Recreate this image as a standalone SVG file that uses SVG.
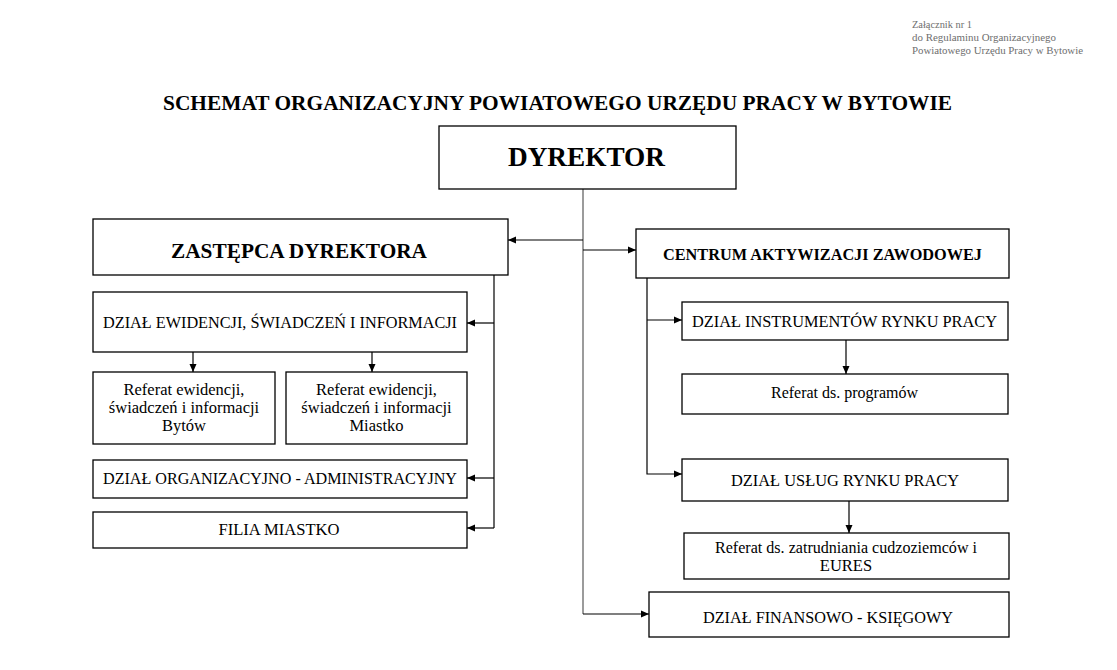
<svg xmlns="http://www.w3.org/2000/svg" width="1117" height="670" viewBox="0 0 1117 670">
<style>
.box{fill:#fff;stroke:#000;stroke-width:1.3}
.t{font-family:"Liberation Serif","Times New Roman",serif;fill:#000;text-anchor:middle}
.r{font-size:16.5px}
.b{font-weight:bold}
.note{font-family:"Liberation Serif","Times New Roman",serif;font-size:10.5px;fill:#6e6e6e}
.ln{fill:none;stroke:#000;stroke-width:1.2}
.main{fill:none;stroke:#7a7a7a;stroke-width:1.5}
</style>
<defs>
<marker id="ah" markerUnits="userSpaceOnUse" markerWidth="8" markerHeight="8" refX="8" refY="4" orient="auto">
<path d="M0,0.5 L8,4 L0,7.5 z" fill="#000"/>
</marker>
</defs>
<rect width="1117" height="670" fill="#fff"/>

<g id="note">
<text class="note" x="912" y="28" textLength="60" lengthAdjust="spacingAndGlyphs">Załącznik nr 1</text>
<text class="note" x="912" y="41" textLength="144" lengthAdjust="spacingAndGlyphs">do Regulaminu Organizacyjnego</text>
<text class="note" x="912" y="54" textLength="171" lengthAdjust="spacingAndGlyphs">Powiatowego Urzędu Pracy w Bytowie</text>
</g>

<text id="title" class="t b" x="557.5" y="110" font-size="20" textLength="789" lengthAdjust="spacingAndGlyphs">SCHEMAT  ORGANIZACYJNY  POWIATOWEGO  URZĘDU  PRACY  W  BYTOWIE</text>

<g id="connectors">
<path class="main" d="M583,189 V614"/>
<path class="ln" d="M583,614 H649" marker-end="url(#ah)"/>
<path class="ln" d="M583,240 H508" marker-end="url(#ah)"/>
<path class="ln" d="M583,250 H636" marker-end="url(#ah)"/>
<path class="ln" d="M494,275 V528"/>
<path class="ln" d="M494,323 H467" marker-end="url(#ah)"/>
<path class="ln" d="M494,478 H467" marker-end="url(#ah)"/>
<path class="ln" d="M494,528 H467" marker-end="url(#ah)"/>
<path class="ln" d="M193,352 V372" marker-end="url(#ah)"/>
<path class="ln" d="M372,352 V372" marker-end="url(#ah)"/>
<path class="ln" d="M647,278 V474 H682" marker-end="url(#ah)"/>
<path class="ln" d="M647,320 H682" marker-end="url(#ah)"/>
<path class="ln" d="M846,340 V374" marker-end="url(#ah)"/>
<path class="ln" d="M849,501 V533" marker-end="url(#ah)"/>
</g>

<g id="dyrektor">
<rect class="box" x="439" y="126" width="297" height="63"/>
<text class="t b" x="586.5" y="166" font-size="27" textLength="157" lengthAdjust="spacingAndGlyphs">DYREKTOR</text>
</g>

<g id="zastepca">
<rect class="box" x="93" y="219" width="415" height="56"/>
<text class="t b" x="299" y="258" font-size="21" textLength="256" lengthAdjust="spacingAndGlyphs">ZASTĘPCA DYREKTORA</text>
</g>

<g id="centrum">
<rect class="box" x="636" y="229" width="373" height="49"/>
<text class="t b" x="822.5" y="260" font-size="16" textLength="319" lengthAdjust="spacingAndGlyphs">CENTRUM AKTYWIZACJI ZAWODOWEJ</text>
</g>

<g id="dzial-ewidencji">
<rect class="box" x="93" y="292" width="374" height="60"/>
<text class="t r" x="280" y="328" textLength="354" lengthAdjust="spacingAndGlyphs">DZIAŁ EWIDENCJI, ŚWIADCZEŃ I INFORMACJI</text>
</g>

<g id="referat-bytow">
<rect class="box" x="93" y="372" width="182" height="72"/>
<text class="t r" x="184" y="395">Referat ewidencji,</text>
<text class="t r" x="184" y="413">świadczeń i informacji</text>
<text class="t r" x="184" y="431">Bytów</text>
</g>

<g id="referat-miastko">
<rect class="box" x="286" y="372" width="181" height="72"/>
<text class="t r" x="376.5" y="395">Referat ewidencji,</text>
<text class="t r" x="376.5" y="413">świadczeń i informacji</text>
<text class="t r" x="376.5" y="431">Miastko</text>
</g>

<g id="dzial-organizacyjny">
<rect class="box" x="93" y="460" width="374" height="38"/>
<text class="t r" x="280" y="484" textLength="354" lengthAdjust="spacingAndGlyphs">DZIAŁ ORGANIZACYJNO - ADMINISTRACYJNY</text>
</g>

<g id="filia">
<rect class="box" x="93" y="512" width="374" height="36"/>
<text class="t r" x="279" y="535" textLength="121" lengthAdjust="spacingAndGlyphs">FILIA MIASTKO</text>
</g>

<g id="dzial-instrumentow">
<rect class="box" x="682" y="302" width="326" height="38"/>
<text class="t r" x="844.5" y="327" textLength="305" lengthAdjust="spacingAndGlyphs">DZIAŁ INSTRUMENTÓW RYNKU PRACY</text>
</g>

<g id="referat-programow">
<rect class="box" x="682" y="374" width="326" height="40"/>
<text class="t r" x="844.5" y="398" textLength="147" lengthAdjust="spacingAndGlyphs">Referat ds. programów</text>
</g>

<g id="dzial-uslug">
<rect class="box" x="682" y="459" width="326" height="42"/>
<text class="t r" x="845" y="486" textLength="228" lengthAdjust="spacingAndGlyphs">DZIAŁ USŁUG RYNKU PRACY</text>
</g>

<g id="referat-cudzoziemcow">
<rect class="box" x="684" y="533" width="325" height="46"/>
<text class="t r" x="846" y="553" textLength="262" lengthAdjust="spacingAndGlyphs">Referat ds. zatrudniania cudzoziemców i</text>
<text class="t r" x="846" y="571">EURES</text>
</g>

<g id="dzial-finansowy">
<rect class="box" x="649" y="592" width="360" height="45"/>
<text class="t r" x="828" y="623" textLength="250" lengthAdjust="spacingAndGlyphs">DZIAŁ FINANSOWO - KSIĘGOWY</text>
</g>
</svg>
